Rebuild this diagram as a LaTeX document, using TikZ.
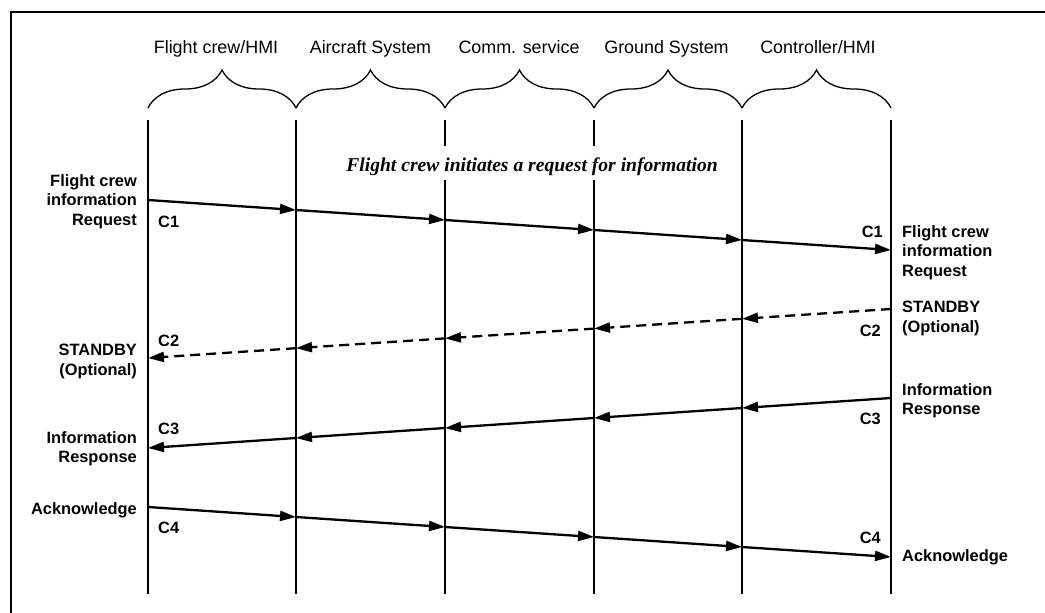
\documentclass[tikz,border=0pt]{standalone}
\usepackage{fontspec}
\setmainfont{Liberation Sans}
\newfontfamily\titlefont{Liberation Serif}
\usetikzlibrary{arrows.meta,decorations.pathreplacing}

\begin{document}
\begin{tikzpicture}[x=1pt,y=-1pt,
  frame/.style={line width=2.4pt},
  lifeline/.style={line width=2.4pt},
  msg/.style={line width=2.3pt,-{Triangle[length=16pt,width=10pt]}},
  optmsg/.style={msg,dash pattern=on 10pt off 6pt},
  group/.style={decorate,decoration={brace,amplitude=38pt},line width=1.3pt},
  head/.style={font=\fontsize{17.9}{21}\selectfont,anchor=base,inner sep=0pt},
  lbl/.style={font=\fontsize{16.4}{19.8}\selectfont\bfseries,inner sep=0pt},
  code/.style={font=\fontsize{16.4}{19.8}\selectfont\bfseries,inner sep=0pt},
  title/.style={font=\titlefont\fontsize{19.6}{23}\selectfont\bfseries\itshape,
    fill=white,inner xsep=3pt,inner ysep=0pt,minimum height=34pt,
    text height=17pt,text depth=0pt}]
\useasboundingbox (0,0) rectangle (1045,613);

% outer frame (top and left edges)
\coordinate (fb) at (11.2,613);
\coordinate (fc) at (11.2,12.2);
\coordinate (fr) at (1045,12.2);
\draw[frame] (fb) -- (fc) -- (fr);

% lifelines and the message crossing points on each of them
\foreach \x [count=\k] in {148,296,445,594,742,891} {
  \coordinate (T\k) at (\x,120);
  \coordinate (B\k) at (\x,594);
  \coordinate (G\k) at (\x,108);
  \coordinate (a\k) at (\x,{200+10*(\k-1)});
  \coordinate (b\k) at (\x,{358-9.8*(\k-1)});
  \coordinate (c\k) at (\x,{448-10*(\k-1)});
  \coordinate (d\k) at (\x,{507+10*(\k-1)});
  \draw[lifeline] (T\k) -- (B\k);
}

% actor groups
\foreach \k in {1,...,5} {
  \pgfmathtruncatemacro{\n}{\k+1}
  \draw[group] (G\k) -- (G\n);
}
\node[head] (h1) at (216,53) {Flight crew/HMI};
\node[head] (h2) at (370.5,53) {Aircraft System};
\node[head] (h3) at (519,53) {Comm. service};
\node[head] (h4) at (666.5,53) {Ground System};
\node[head] (h5) at (818,53) {Controller/HMI};

\node[title] (ttl) at (532,163) {Flight crew initiates a request for information};

% messages, one arrow per hop
\foreach \k in {1,...,5} {
  \pgfmathtruncatemacro{\n}{\k+1}
  \draw[msg] (a\k) -- (a\n);
  \draw[optmsg] (b\n) -- (b\k);
  \draw[msg] (c\n) -- (c\k);
  \draw[msg] (d\k) -- (d\n);
}

% labels at the flight crew side
\node[lbl,anchor=north east,align=right] (reqL) at (137,174) {Flight crew\\information\\Request};
\node[lbl,anchor=north east,align=right] (sbyL) at (137,344) {STANDBY\\(Optional)};
\node[lbl,anchor=north east,align=right] (rspL) at (137,431) {Information\\Response};
\node[lbl,anchor=north east,align=right] (ackL) at (137,502) {Acknowledge};

% labels at the controller side
\node[lbl,anchor=north west,align=left] (reqR) at (902,225) {Flight crew\\information\\Request};
\node[lbl,anchor=north west,align=left] (sbyR) at (902,301) {STANDBY\\(Optional)};
\node[lbl,anchor=north west,align=left] (rspR) at (902,383) {Information\\Response};
\node[lbl,anchor=north west,align=left] (ackR) at (902,549) {Acknowledge};

% message codes
\node[code,anchor=west] (c1L) at (158,222) {C1};
\node[code,anchor=west] (c2L) at (158,341) {C2};
\node[code,anchor=west] (c3L) at (158,429) {C3};
\node[code,anchor=west] (c4L) at (158,528) {C4};
\node[code,anchor=east] (c1R) at (883,232) {C1};
\node[code,anchor=east] (c2R) at (881,331) {C2};
\node[code,anchor=east] (c3R) at (881,419) {C3};
\node[code,anchor=east] (c4R) at (881,538) {C4};
\end{tikzpicture}
\end{document}
